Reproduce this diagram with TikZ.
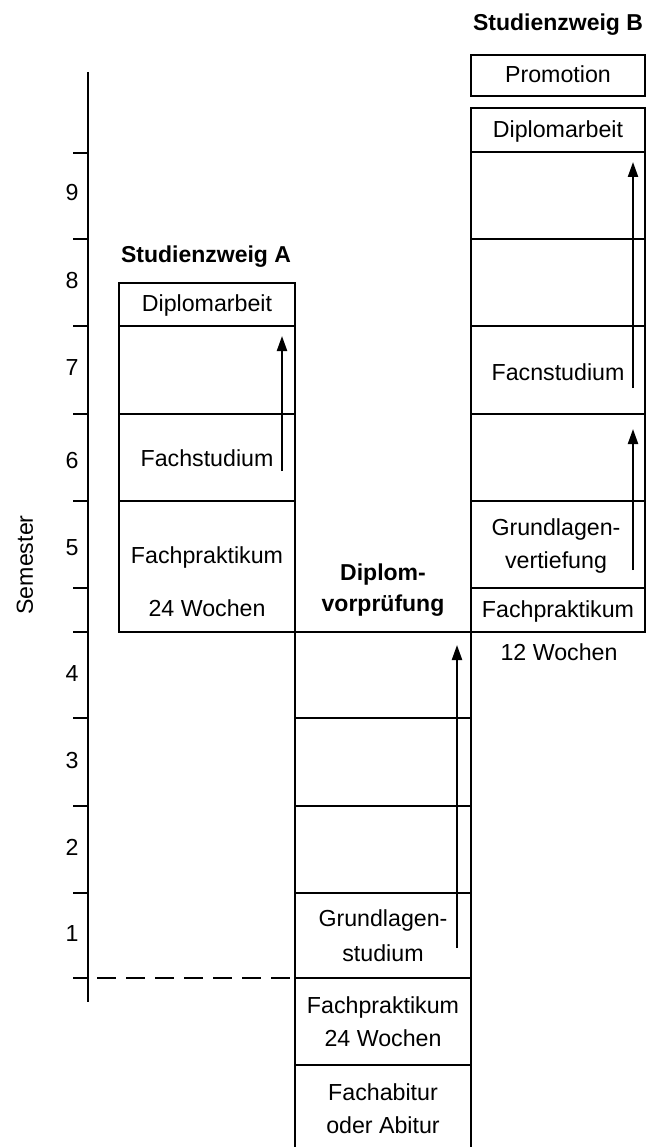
\documentclass[tikz,border=0pt]{standalone}
\usepackage{fontspec}
\setmainfont{Liberation Sans}
\usetikzlibrary{arrows.meta}
\begin{document}
\begin{tikzpicture}[x=1pt,y=-1pt,
  frame/.style={line width=2pt},
  axisline/.style={line width=2pt},
  lbl/.style={font=\fontsize{23.2}{28}\selectfont, inner sep=0pt, anchor=base},
  head/.style={font=\bfseries\fontsize{23}{28}\selectfont, inner sep=0pt, anchor=base},
  flow/.style={line width=2.2pt, -{Triangle[length=15pt,width=10pt]}},
  startline/.style={line width=2.2pt, dash pattern=on 19pt off 10pt}]
\useasboundingbox (0,0) rectangle (649,1147);

% semester axis
\draw[axisline] (88,72) -- (88,1002);
\foreach \t in {153,239,326,414,501,588,632,718,806,893,978}
  \draw[axisline] (73,\t) -- (88,\t);
\foreach \n/\y in {9/201,8/289,7/375,6/468,5/555,4/681,3/768,2/855,1/941}
  \node[lbl] (sem\n) at (72,\y) {\n};
\node[font=\fontsize{23.2}{28}\selectfont, inner sep=0pt, rotate=90] (semlabel) at (25,565) {Semester};
\draw[startline] (97,978) -- (295,978);

% Studienzweig A
\draw[frame] (119,283) rectangle (295,632);
\foreach \y in {326,414,501} \draw[frame] (119,\y) -- (295,\y);

% common part
\draw[frame] (295,632) -- (295,1150);
\draw[frame] (471,632) -- (471,1150);
\foreach \y in {632,718,806,893,978,1065} \draw[frame] (295,\y) -- (471,\y);

% Studienzweig B
\draw[frame] (471,55) rectangle (645,96);
\draw[frame] (471,108) rectangle (645,632);
\foreach \y in {152,239,326,414,501,588} \draw[frame] (471,\y) -- (645,\y);

% labels, branch A
\node[head] (headA) at (206,263) {Studienzweig A};
\node[lbl] (dipA) at (207,312) {Diplomarbeit};
\node[lbl] (fsA) at (207,466) {Fachstudium};
\node[lbl] (fpA) at (207,563) {Fachpraktikum};
\node[lbl] (fpAw) at (207,616) {24 Wochen};

% labels, common part
\node[head] (dvp1) at (383,580) {Diplom-};
\node[head] (dvp2) at (383,611) {vorprüfung};
\node[lbl] (gs1) at (383,926) {Grundlagen-};
\node[lbl] (gs2) at (383,961) {studium};
\node[lbl] (fp1) at (383,1013) {Fachpraktikum};
\node[lbl] (fp2) at (383,1046) {24 Wochen};
\node[lbl] (abi1) at (383,1100) {Fachabitur};
\node[lbl] (abi2) at (383,1133) {oder Abitur};

% labels, branch B
\node[head] (headB) at (558,31) {Studienzweig B};
\node[lbl] (promB) at (558,83) {Promotion};
\node[lbl] (dipB) at (558,138) {Diplomarbeit};
\node[lbl] (fsB) at (558,380) {Facnstudium};
\node[lbl] (gv1) at (556,535) {Grundlagen-};
\node[lbl] (gv2) at (556,568) {vertiefung};
\node[lbl] (fpB) at (558,617) {Fachpraktikum};
\node[lbl] (fpBw) at (559,660) {12 Wochen};

% progression arrows
\coordinate (aTail) at (282,471);
\coordinate (aTip) at (282,336);
\coordinate (mTail) at (457,948);
\coordinate (mTip) at (457,645);
\coordinate (b1Tail) at (633,570);
\coordinate (b1Tip) at (633,429);
\coordinate (b2Tail) at (633,388);
\coordinate (b2Tip) at (633,162);
\draw[flow] (aTail) -- (aTip);
\draw[flow] (mTail) -- (mTip);
\draw[flow] (b1Tail) -- (b1Tip);
\draw[flow] (b2Tail) -- (b2Tip);
\end{tikzpicture}
\end{document}
